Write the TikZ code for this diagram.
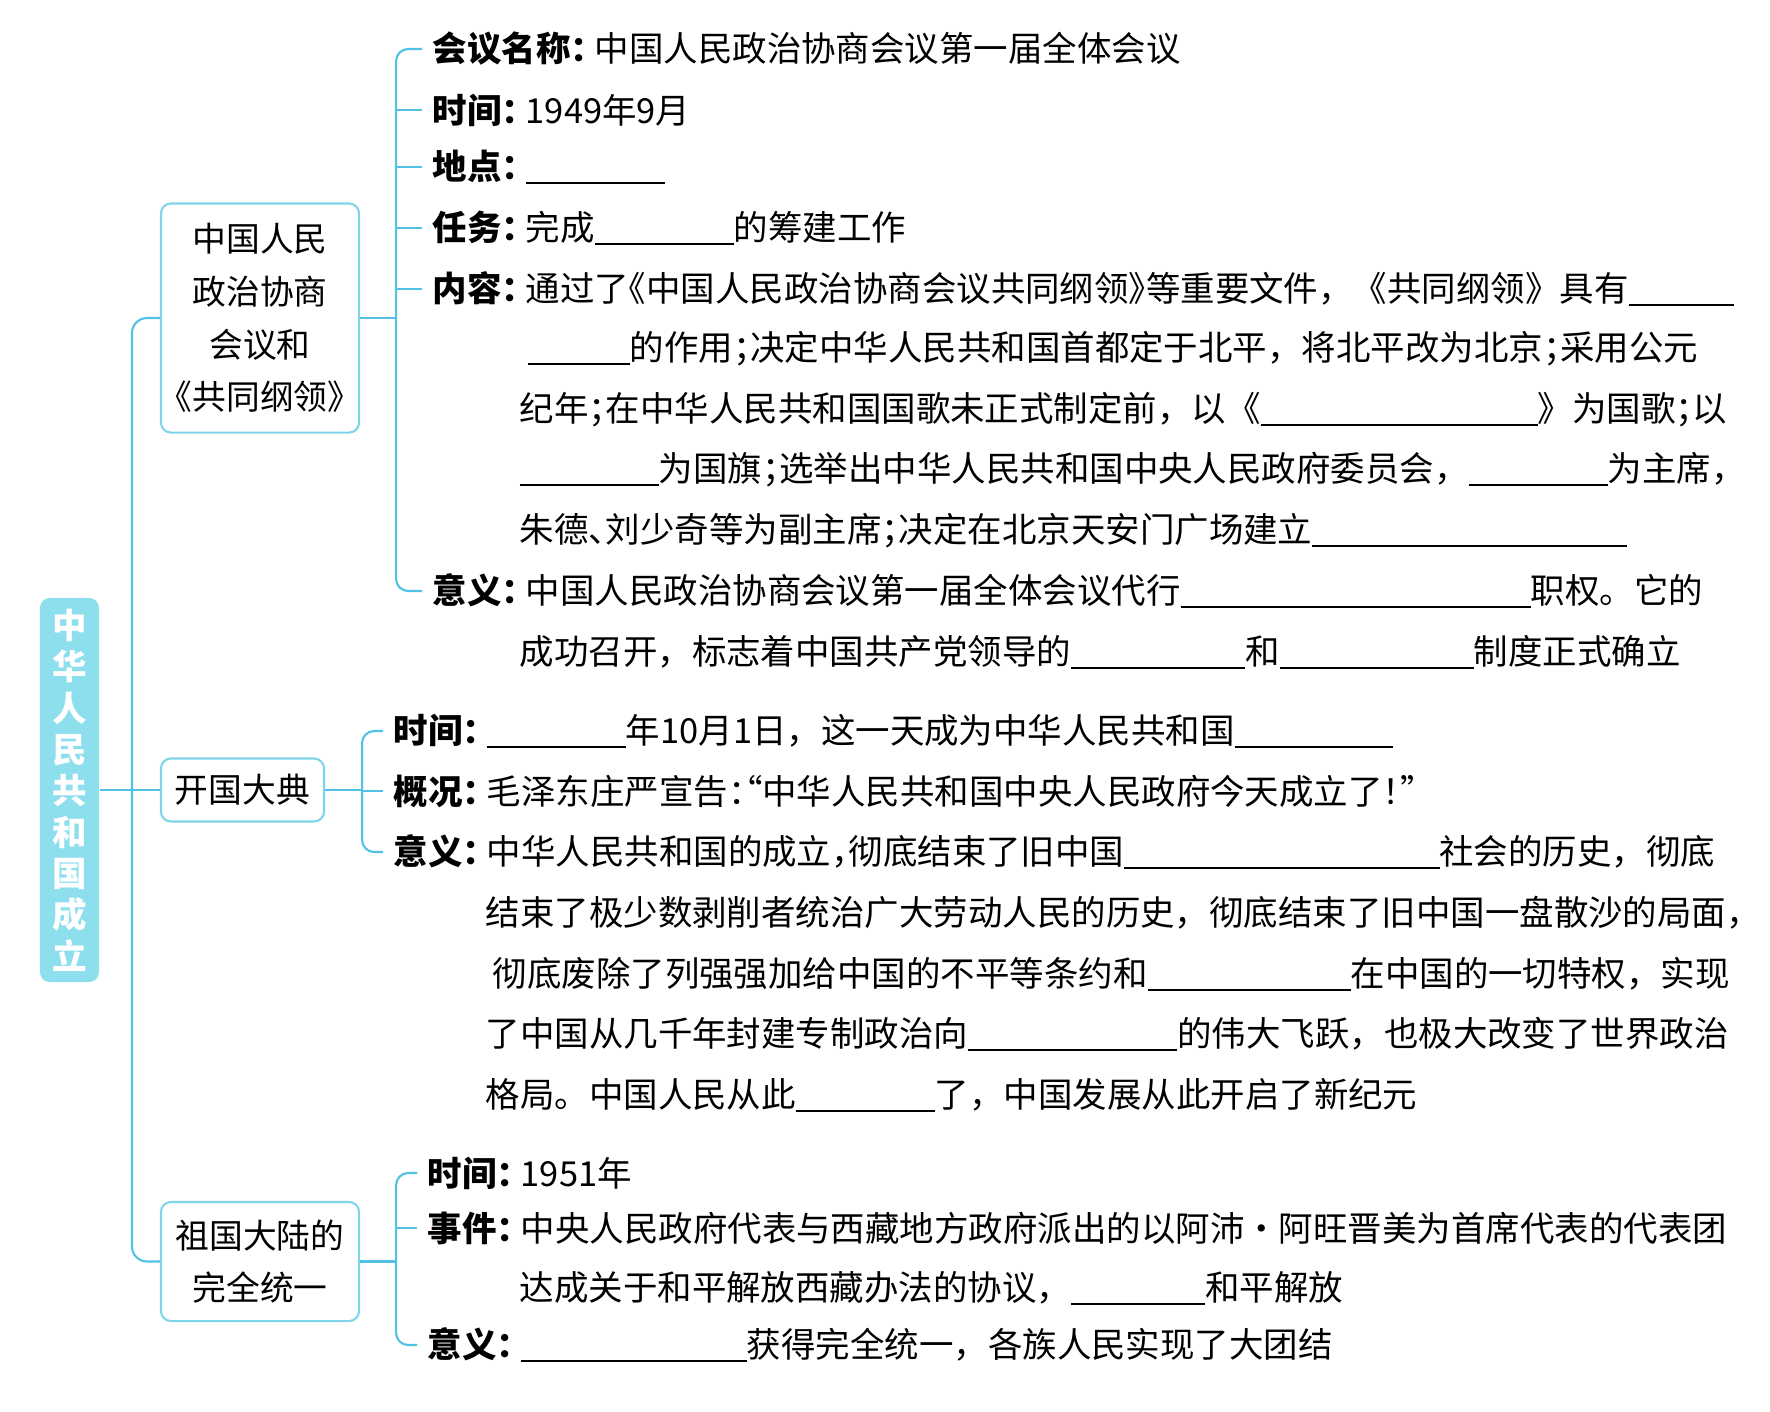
\documentclass[tikz,border=0pt]{standalone}
\usepackage{fontspec}
\setmainfont{Noto Sans CJK SC}
\usepackage{tikz}
\usetikzlibrary{positioning}
\definecolor{linecyan}{HTML}{52C2E4}
\definecolor{boxcyan}{HTML}{80D4EA}
\definecolor{titlecyan}{HTML}{8EDFEE}
\newcommand{\blank}[1]{\rule[-0.12em]{#1cm}{0.5pt}}
\newcommand{\halfw}[1]{{\addfontfeature{RawFeature=+halt}#1}}
\newcommand{\fullw}[1]{{\addfontfeature{RawFeature=+fwid}#1}}
\newcommand{\lbl}[1]{\textbf{#1\halfw{：}}\hspace{0.2em}}

\begin{document}
\begin{tikzpicture}[x=0.01cm,y=-0.01cm,
  font=\fontsize{9.8}{12}\selectfont,
  link/.style={linecyan,line width=0.6pt},
  topic/.style={draw=boxcyan,line width=0.6pt,rounded corners=0.1cm,align=center,inner sep=0pt,
    font=\fontsize{9.6}{15}\selectfont},
  item/.style={anchor=west,inner xsep=0.1cm,inner ysep=0pt},
  more/.style={anchor=west,inner sep=0pt}]
  \useasboundingbox (0,0) rectangle (1770,1411);
  \node[fill=titlecyan,rounded corners=0.1cm,minimum width=0.59cm,minimum height=3.84cm,inner sep=0pt,
    text=white,align=center,font=\fontsize{9.8}{11.75}\selectfont\bfseries] (title) at (69.5,790)
    {中\\华\\人\\民\\共\\和\\国\\成\\立};
  \node[topic,minimum width=1.98cm,minimum height=2.29cm] (b1) at (260,318)
    {中国人民\\政治协商\\会议和\\\halfw{《}共同纲领\halfw{》}};
  \node[topic,minimum width=1.63cm,minimum height=0.63cm] (b2) at (242.5,790) {开国大典};
  \node[topic,minimum width=1.98cm,minimum height=1.19cm] (b3) at (260,1261.5) {祖国大陆的\\完全统一};
  \coordinate (trunk) at (132,790);
  \draw[link,rounded corners=0.15cm] (b1.west) -| (trunk) |- (b3.west);
  \draw[link] (title.east) -- (b2.west);

  \node[item] (i11) at (422,49) {\lbl{会议名称}中国人民政治协商会议第一届全体会议};
  \node[item] (i12) at (422,110) {\lbl{时间}1949年9月};
  \node[item] (i13) at (422,167) {\lbl{地点}\blank{1.39}};
  \node[item] (i14) at (422,228) {\lbl{任务}完成\blank{1.39}的筹建工作};
  \node[item] (i15) at (422,289) {\lbl{内容}通过了\halfw{《}中国人民政治协商会议共同纲领\halfw{》}等重要文件，《共同纲领》具有\blank{1.05}};
  \node[more] (c11) at (527,349) {\blank{1.02}的作用\halfw{；}决定中华人民共和国首都定于北平，将北平改为北京\halfw{；}采用公元};
  \node[more] (c12) at (519,410) {纪年\halfw{；}在中华人民共和国国歌未正式制定前，以《\blank{2.77}》为国歌\halfw{；}以};
  \node[more] (c13) at (519,470) {\blank{1.39}为国旗\halfw{；}选举出中华人民共和国中央人民政府委员会，\blank{1.39}为主席，};
  \node[more] (c14) at (519,531) {朱德\halfw{、}刘少奇等为副主席\halfw{；}决定在北京天安门广场建立\blank{3.14}};
  \node[item] (i16) at (422,591) {\lbl{意义}中国人民政治协商会议第一届全体会议代行\blank{3.5}职权。它的};
  \node[more] (c15) at (519,652) {成功召开，标志着中国共产党领导的\blank{1.74}和\blank{1.94}制度正式确立};
  \draw[link] (b1.east) -- ++(36,0) coordinate (k1);
  \draw[link,rounded corners=0.12cm] (i11.west) -| (k1) |- (i16.west);
  \foreach \n in {2,3,4,5} \draw[link] (i1\n.west) -- (i1\n.west -| k1);

  \node[item] (i21) at (383,731) {\lbl{时间}\blank{1.39}年10月1日，这一天成为中华人民共和国\blank{1.58}};
  \node[item] (i22) at (383,791) {\lbl{概况}毛泽东庄严宣告\halfw{：“}中华人民共和国中央人民政府今天成立了\halfw{！”}};
  \node[item] (i23) at (383,852) {\lbl{意义}中华人民共和国的成立\halfw{，}彻底结束了旧中国\blank{3.15}社会的历史，彻底};
  \node[more] (c21) at (485,913) {结束了极少数剥削者统治广大劳动人民的历史，彻底结束了旧中国一盘散沙的局面，};
  \node[more] (c22) at (492,974) {彻底废除了列强强加给中国的不平等条约和\blank{2.03}在中国的一切特权，实现};
  \node[more] (c23) at (485,1034) {了中国从几千年封建专制政治向\blank{2.09}的伟大飞跃，也极大改变了世界政治};
  \node[more] (c24) at (485,1095) {格局。中国人民从此\blank{1.39}了，中国发展从此开启了新纪元};
  \draw[link] (b2.east) -- ++(37,0) coordinate (k2);
  \draw[link,rounded corners=0.12cm] (i21.west) -| (k2) |- (i23.west);
  \draw[link] (i22.west) -- (i22.west -| k2);

  \node[item] (i31) at (417,1173) {\lbl{时间}1951年};
  \node[item] (i32) at (417,1228) {\lbl{事件}中央人民政府代表与西藏地方政府派出的以阿沛\fullw{·}阿旺晋美为首席代表的代表团};
  \node[more] (c31) at (519,1288) {达成关于和平解放西藏办法的协议，\blank{1.34}和平解放};
  \node[item] (i33) at (417,1345) {\lbl{意义}\blank{2.26}获得完全统一，各族人民实现了大团结};
  \draw[link] (b3.east) -- ++(36,0) coordinate (k3);
  \draw[link,rounded corners=0.12cm] (i31.west) -| (k3) |- (i33.west);
  \draw[link] (i32.west) -- (i32.west -| k3);
\end{tikzpicture}
\end{document}
